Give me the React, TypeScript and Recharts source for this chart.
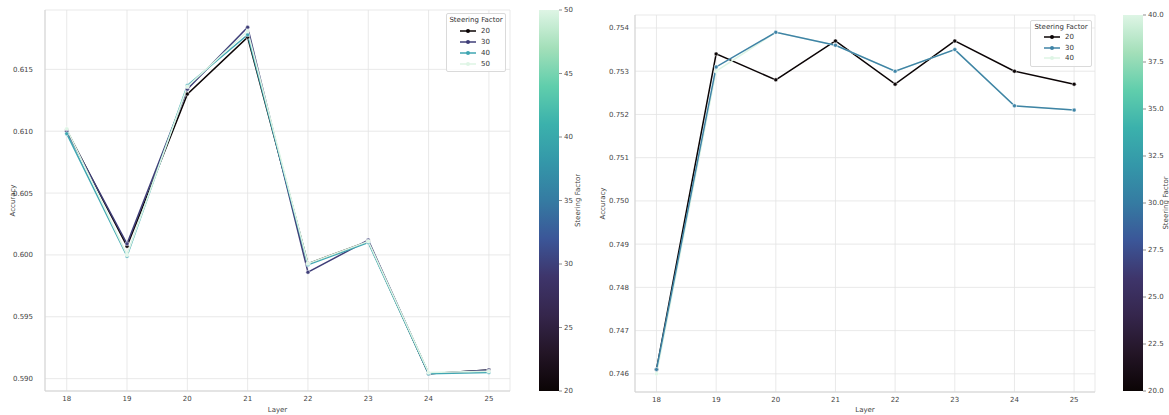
import { LineChart, Line, XAxis, YAxis, CartesianGrid, Legend } from "recharts";

const FONT = "DejaVu Sans";
const TEXT = "#444";
const GRID = "#e3e3e3";

const LAYERS = [18, 19, 20, 21, 22, 23, 24, 25];

// left panel, steering factor 20..50
const LEFT_S20 = [0.6101, 0.6007, 0.613, 0.6176, 0.5993, 0.6011, 0.5904, 0.5907];
const LEFT_S30 = [0.61, 0.6009, 0.6134, 0.6184, 0.5986, 0.6012, 0.5904, 0.5907];
const LEFT_S40 = [0.6098, 0.5999, 0.6137, 0.6178, 0.5992, 0.601, 0.5904, 0.5905];
const LEFT_S50 = [0.6102, 0.6, 0.6136, 0.6181, 0.5993, 0.6011, 0.5905, 0.5906];
const LEFT_YTICKS = [0.59, 0.595, 0.6, 0.605, 0.61, 0.615];
const LEFT_CB_TICKS = [20, 25, 30, 35, 40, 45, 50];

// right panel, steering factor 20..40
const RIGHT_S20 = [0.7461, 0.7534, 0.7528, 0.7537, 0.7527, 0.7537, 0.753, 0.7527];
const RIGHT_S30 = [0.7461, 0.7531, 0.7539, 0.7536, 0.753, 0.7535, 0.7522, 0.7521];
const RIGHT_S40 = [0.746, 0.753, 0.7539, 0.7536, 0.753, 0.7535, 0.7522, 0.7521];
const RIGHT_YTICKS = [0.746, 0.747, 0.748, 0.749, 0.75, 0.751, 0.752, 0.753, 0.754];
const RIGHT_CB_TICKS = [20, 22.5, 25, 27.5, 30, 32.5, 35, 37.5, 40];

// seaborn "mako"
const MAKO: [number, string][] = [
  [0, "#0b0405"],
  [0.1, "#231526"],
  [0.2, "#35264c"],
  [0.3, "#3e356b"],
  [0.4, "#3b5698"],
  [0.5, "#357ba2"],
  [0.6, "#3497a9"],
  [0.7, "#3bb1ac"],
  [0.8, "#60ceac"],
  [0.9, "#a3dfb9"],
  [1, "#def5e5"],
];

const toRows = (series: Record<string, number[]>) =>
  LAYERS.map((layer, i) => {
    const row: Record<string, number> = { layer };
    Object.keys(series).forEach((k) => (row[k] = series[k][i]));
    return row;
  });

const leftData = toRows({ "20": LEFT_S20, "30": LEFT_S30, "40": LEFT_S40, "50": LEFT_S50 });
const rightData = toRows({ "20": RIGHT_S20, "30": RIGHT_S30, "40": RIGHT_S40 });

function SteeringLegend({ payload, rowH }: { payload?: any[]; rowH: number }) {
  const items = [...(payload || [])].sort((a, b) => Number(a.value) - Number(b.value));
  return (
    <div
      style={{
        border: "1px solid #dadada",
        borderRadius: 2,
        background: "rgba(255,255,255,0.85)",
        fontFamily: FONT,
        fontSize: 7,
        color: "#333",
        padding: "1px 0 2px",
      }}
    >
      <div style={{ textAlign: "center", lineHeight: "10px" }}>Steering Factor</div>
      {items.map((it) => (
        <div key={it.value} style={{ display: "flex", alignItems: "center", height: rowH }}>
          <svg width={34} height={6}>
            <line x1={13} x2={29} y1={3} y2={3} stroke={it.color} strokeWidth={1.5} />
            <circle cx={21} cy={3} r={2} fill={it.color} />
          </svg>
          <span style={{ lineHeight: "8px" }}>{it.value}</span>
        </div>
      ))}
    </div>
  );
}

function Colorbar({
  left,
  top,
  height,
  ticks,
  fmt,
  id,
  labelX,
}: {
  left: number;
  top: number;
  height: number;
  ticks: number[];
  fmt: (v: number) => string;
  id: string;
  labelX: number;
}) {
  const lo = ticks[0];
  const hi = ticks[ticks.length - 1];
  const w = 20;
  const yOf = (v: number) => top + ((hi - v) / (hi - lo)) * height;
  return (
    <svg style={{ position: "absolute", left: 0, top: 0 }} width={1169} height={415}>
      <defs>
        <linearGradient id={id} x1="0" y1="1" x2="0" y2="0">
          {MAKO.map(([o, c]) => (
            <stop key={o} offset={o} stopColor={c} />
          ))}
        </linearGradient>
      </defs>
      <rect x={left} y={top} width={w} height={height} fill={`url(#${id})`} />
      {ticks.map((t) => (
        <g key={t}>
          <line x1={left + w} x2={left + w + 3} y1={yOf(t)} y2={yOf(t)} stroke={TEXT} strokeWidth={0.6} />
          <text x={left + w + 5} y={yOf(t)} dy="0.35em" fontFamily={FONT} fontSize={7} fill={TEXT}>
            {fmt(t)}
          </text>
        </g>
      ))}
      <text
        x={labelX}
        y={top + height / 2}
        transform={`rotate(-90 ${labelX} ${top + height / 2})`}
        textAnchor="middle"
        dy="0.35em"
        fontFamily={FONT}
        fontSize={7}
        fill={TEXT}
      >
        Steering Factor
      </text>
    </svg>
  );
}

type Series = { key: string; color: string };

function Panel({
  x,
  width,
  top,
  xAxisH,
  data,
  series,
  yDomain,
  yTicks,
  tickGap,
  legendPos,
  rowH,
}: {
  x: number;
  width: number;
  top: number;
  xAxisH: number;
  data: Record<string, number>[];
  series: Series[];
  yDomain: [number, number];
  yTicks: number[];
  tickGap: number;
  legendPos: { left: number; top: number; width: number };
  rowH: number;
}) {
  const xDomain: [number, number] = [17.64, 25.35];
  return (
    <div style={{ position: "absolute", left: x, top: 0 }}>
      <LineChart width={width} height={415} data={data} margin={{ top, right: 20, bottom: 0, left: 0 }}>
        <CartesianGrid stroke={GRID} strokeWidth={0.8} />
        <XAxis
          dataKey="layer"
          type="number"
          domain={xDomain}
          ticks={LAYERS}
          allowDataOverflow
          height={xAxisH}
          tickLine={false}
          tickSize={0}
          tickMargin={5}
          axisLine={{ stroke: "#d4d4d4" }}
          tick={{ fontSize: 7, fill: TEXT, fontFamily: FONT }}
          label={{ value: "Layer", position: "insideBottom", offset: 3, fontSize: 7, fill: TEXT, fontFamily: FONT }}
        />
        <XAxis
          xAxisId="top"
          orientation="top"
          type="number"
          domain={xDomain}
          allowDataOverflow
          height={0}
          tick={false}
          tickLine={false}
          axisLine={{ stroke: "#d4d4d4" }}
        />
        <YAxis
          type="number"
          domain={yDomain}
          ticks={yTicks}
          allowDataOverflow
          width={45}
          tickLine={false}
          tickSize={0}
          tickMargin={tickGap}
          axisLine={{ stroke: "#d4d4d4" }}
          tickFormatter={(v: number) => v.toFixed(3)}
          tick={{ fontSize: 7, fill: TEXT, fontFamily: FONT }}
          label={{
            value: "Accuracy",
            angle: -90,
            position: "insideLeft",
            offset: 13,
            fontSize: 7,
            fill: TEXT,
            fontFamily: FONT,
            style: { textAnchor: "middle" },
          }}
        />
        <YAxis
          yAxisId="right"
          orientation="right"
          type="number"
          domain={yDomain}
          allowDataOverflow
          width={0}
          tick={false}
          tickLine={false}
          axisLine={{ stroke: "#d4d4d4" }}
        />
        <Legend
          layout="horizontal"
          verticalAlign="middle"
          align="center"
          wrapperStyle={{ left: legendPos.left, top: legendPos.top, width: legendPos.width }}
          content={(props: any) => <SteeringLegend payload={props.payload} rowH={rowH} />}
        />
        {series.map((s) => (
          <Line
            key={s.key}
            dataKey={s.key}
            name={s.key}
            type="linear"
            stroke={s.color}
            strokeWidth={1.5}
            dot={{ r: 2, fill: s.color, stroke: "#fff", strokeWidth: 0.5 }}
            activeDot={false}
            isAnimationActive={false}
          />
        ))}
      </LineChart>
    </div>
  );
}

export default function App() {
  return (
    <div style={{ position: "absolute", left: 0, top: 0, width: 1169, height: 415, background: "#fff" }}>
      <Panel
        x={0}
        width={530}
        top={10}
        xAxisH={24}
        data={leftData}
        series={[
          { key: "20", color: "#0b0405" },
          { key: "30", color: "#3f3e78" },
          { key: "40", color: "#3fa6b2" },
          { key: "50", color: "#def5e5" },
        ]}
        yDomain={[0.589, 0.6198]}
        yTicks={LEFT_YTICKS}
        tickGap={12}
        legendPos={{ left: 446, top: 13, width: 60 }}
        rowH={11}
      />
      <Panel
        x={590}
        width={525}
        top={15}
        xAxisH={23}
        data={rightData}
        series={[
          { key: "20", color: "#0b0405" },
          { key: "40", color: "#def5e5" },
          { key: "30", color: "#3f83a6" },
        ]}
        yDomain={[0.74558, 0.7543]}
        yTicks={RIGHT_YTICKS}
        tickGap={6}
        legendPos={{ left: 440, top: 20, width: 62 }}
        rowH={10.5}
      />
      <Colorbar left={539} top={10} height={381} ticks={LEFT_CB_TICKS} fmt={(v) => String(v)} id="cbL" labelX={578} />
      <Colorbar left={1123} top={15} height={376} ticks={RIGHT_CB_TICKS} fmt={(v) => v.toFixed(1)} id="cbR" labelX={1166} />
    </div>
  );
}
